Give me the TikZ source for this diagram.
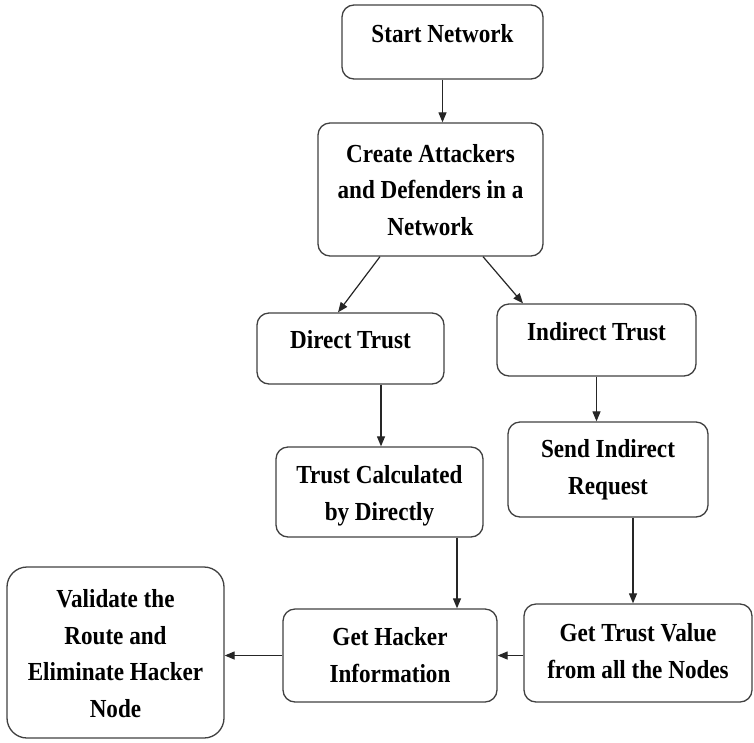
\documentclass[tikz,border=0pt]{standalone}
\usepackage{fontspec}
\setmainfont{Liberation Serif}[FakeStretch=0.89]
\usetikzlibrary{arrows.meta}
\begin{document}
\begin{tikzpicture}[x=1pt,y=-1pt,
  box/.style={draw=black!75,line width=1.3pt,rounded corners=12pt,inner sep=0pt},
  txt/.style={align=center,inner sep=0pt,anchor=base,
    font=\bfseries\fontsize{26}{36.5}\selectfont},
  flow/.style={draw=black!85,line width=1.2pt,-{Triangle[length=10pt,width=8pt]}}]
\useasboundingbox (0,0) rectangle (754,742);

% boxes
\node[box,minimum width=201pt,minimum height=74pt]  (start)    at (442.5,42)  {};
\node[box,minimum width=225pt,minimum height=133pt] (create)   at (430.5,189.5) {};
\node[box,minimum width=187pt,minimum height=71pt]  (direct)   at (350.5,348.5) {};
\node[box,minimum width=199pt,minimum height=72pt]  (indirect) at (596.5,340) {};
\node[box,minimum width=207pt,minimum height=90pt]  (calc)     at (379.5,492) {};
\node[box,minimum width=200pt,minimum height=95pt]  (send)     at (608,469.5) {};
\node[box,minimum width=217pt,minimum height=171pt,rounded corners=20pt] (validate) at (115.5,652.5) {};
\node[box,minimum width=214pt,minimum height=93pt]  (hacker)   at (390,655.5) {};
\node[box,minimum width=228pt,minimum height=98pt]  (value)    at (638,653) {};

% texts (placed at the baseline of the last line)
\node[txt] (start-t)    at (442.5,42)  {Start Network};
\node[txt] (create-t)   at (430.5,235) {Create Attackers\\and Defenders in a\\Network};
\node[txt] (direct-t)   at (350.5,348) {Direct Trust};
\node[txt] (indirect-t) at (596.5,340) {Indirect Trust};
\node[txt] (calc-t)     at (379.5,520) {Trust Calculated\\by Directly};
\node[txt] (send-t)     at (608,494)   {Send Indirect\\Request};
\node[txt] (validate-t) at (115.5,717) {Validate the\\Route and\\Eliminate Hacker\\Node};
\node[txt] (hacker-t)   at (390,682)   {Get Hacker\\Information};
\node[txt] (value-t)    at (638,678)   {Get Trust Value\\from all the Nodes};

% connectors
\draw[flow] (start.south) -- (start.south |- create.north);
\draw[flow] ([xshift=-50.5pt]create.south) -- ([xshift=-12.5pt]direct.north);
\draw[flow] ([xshift=52.5pt]create.south) -- ([xshift=-73.5pt]indirect.north);
\draw[flow] ([xshift=30.5pt]direct.south) -- ([xshift=30.5pt]direct.south |- calc.north);
\draw[flow] (indirect.south) -- (indirect.south |- send.north);
\draw[flow] ([xshift=77.5pt]calc.south) -- ([xshift=77.5pt]calc.south |- hacker.north);
\draw[flow] ([xshift=25pt]send.south) -- ([xshift=25pt]send.south |- value.north);
\draw[flow] (hacker.east -| value.west) -- (hacker.east);
\draw[flow] (hacker.west) -- (hacker.west -| validate.east);
\end{tikzpicture}
\end{document}
